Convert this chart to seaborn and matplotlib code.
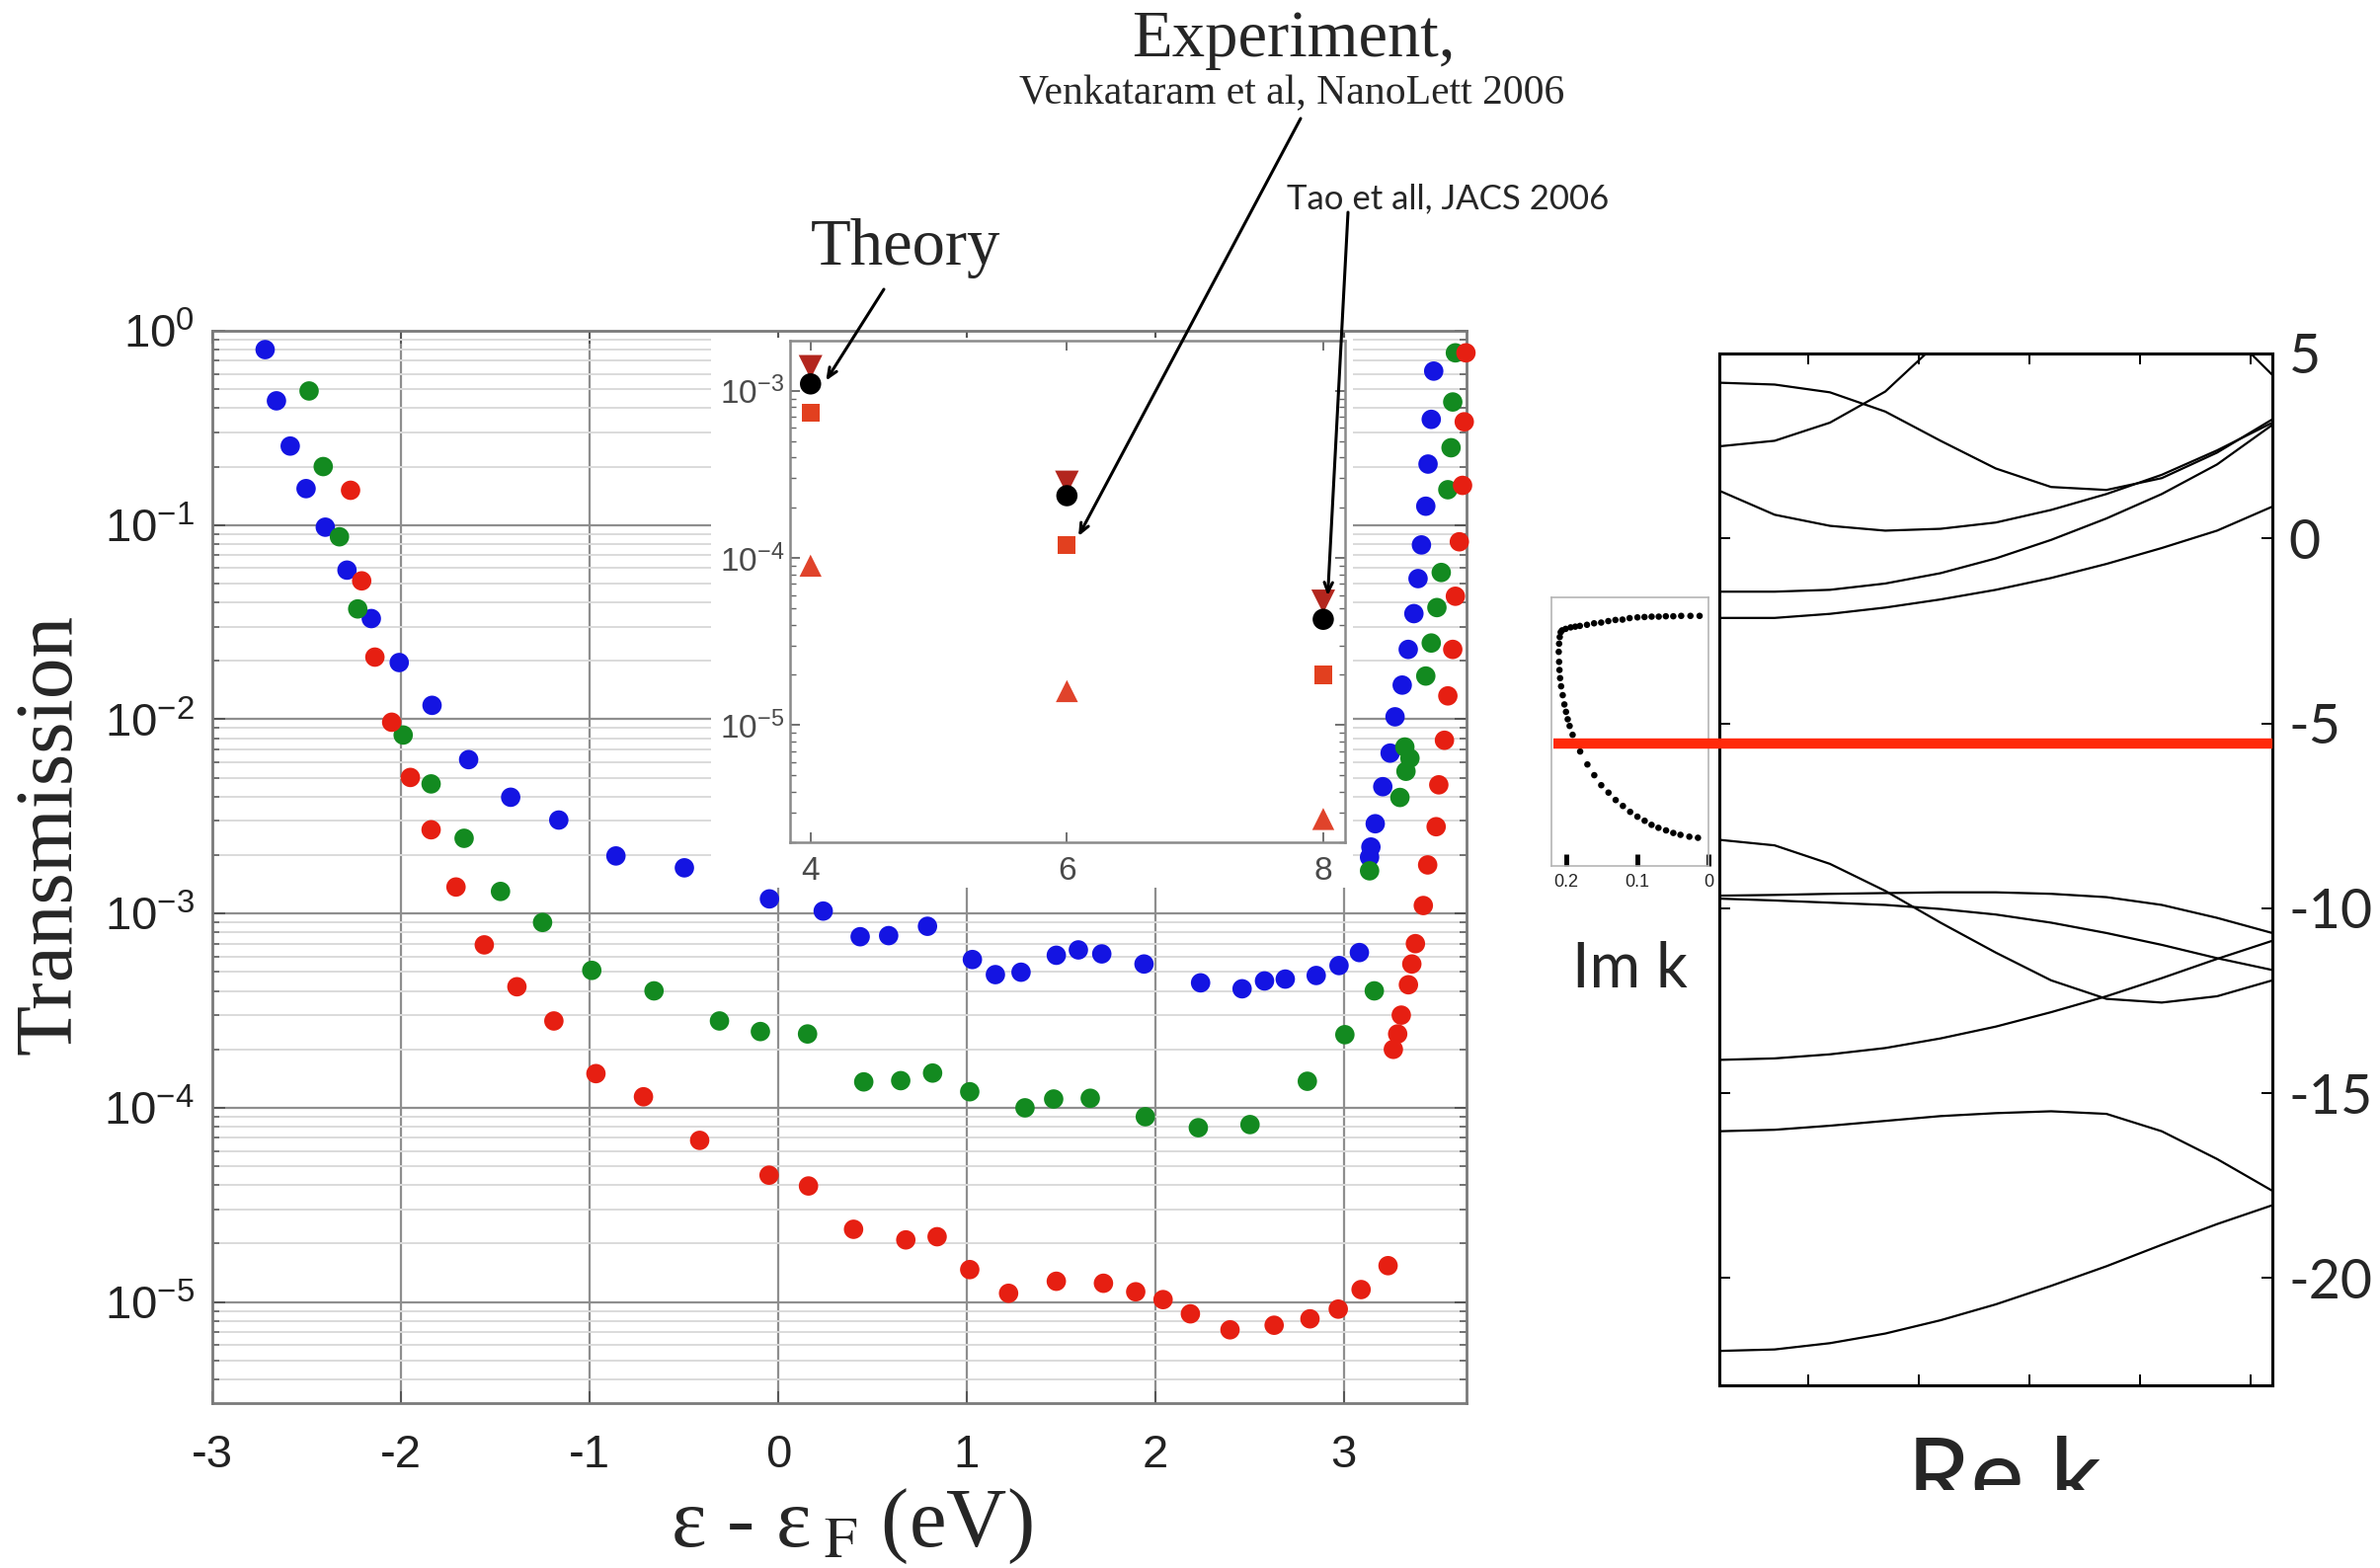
import numpy as np
import pandas as pd
import matplotlib
matplotlib.use("Agg")
import matplotlib.pyplot as plt
import matplotlib.ticker as mticker
import matplotlib.transforms as mtrans
from matplotlib.patches import Rectangle
import seaborn as sns

# ---------------- data ----------------
# main panel: transmission vs energy (three series)
blue_E = [-2.72, -2.66, -2.587, -2.503, -2.401, -2.286, -2.157, -2.009, -1.835, -1.641,
          -1.418, -1.163, -0.860, -0.497, -0.046, 0.239, 0.435, 0.586, 0.792, 1.03,
          1.152, 1.288, 1.475, 1.592, 1.716, 1.940, 2.240, 2.460, 2.579, 2.689,
          2.853, 2.974, 3.082, 3.136, 3.143, 3.166, 3.206, 3.245, 3.271, 3.309,
          3.341, 3.371, 3.393, 3.411, 3.434, 3.446, 3.463, 3.476]
blue_T = [0.80, 0.436, 0.255, 0.154, 0.0975, 0.0586, 0.033, 0.0196, 0.0118, 0.0062,
          0.00397, 0.00303, 0.00198, 0.00172, 0.00119, 0.00103, 7.6e-4, 7.7e-4, 8.6e-4, 5.8e-4,
          4.85e-4, 4.99e-4, 6.1e-4, 6.5e-4, 6.2e-4, 5.5e-4, 4.4e-4, 4.1e-4, 4.5e-4, 4.6e-4,
          4.8e-4, 5.4e-4, 6.3e-4, 1.95e-3, 2.2e-3, 2.9e-3, 4.5e-3, 6.7e-3, 0.0103, 0.015,
          0.0229, 0.035, 0.053, 0.079, 0.125, 0.206, 0.35, 0.62]

green_E = [-2.487, -2.412, -2.326, -2.229, -1.988, -1.840, -1.665, -1.472, -1.249, -0.988,
           -0.658, -0.311, -0.094, 0.156, 0.454, 0.650, 0.819, 1.016, 1.309, 1.461,
           1.655, 1.947, 2.228, 2.502, 2.806, 3.005, 3.161, 3.136, 3.297, 3.329,
           3.35, 3.323, 3.434, 3.463, 3.493, 3.516, 3.551, 3.568, 3.577, 3.591]
green_T = [0.49, 0.2, 0.087, 0.037, 0.0083, 0.00465, 0.00244, 0.0013, 9.0e-4, 5.1e-4,
           4.0e-4, 2.8e-4, 2.47e-4, 2.4e-4, 1.36e-4, 1.38e-4, 1.51e-4, 1.21e-4, 1.0e-4, 1.11e-4,
           1.12e-4, 9.0e-5, 7.9e-5, 8.2e-5, 1.37e-4, 2.38e-4, 4.0e-4, 1.66e-3, 3.96e-3, 5.4e-3,
           6.3e-3, 7.2e-3, 0.0167, 0.0247, 0.0376, 0.057, 0.152, 0.25, 0.43, 0.77]

red_E = [-2.267, -2.208, -2.138, -2.049, -1.950, -1.840, -1.708, -1.558, -1.385, -1.189,
         -0.966, -0.714, -0.416, -0.048, 0.161, 0.40, 0.677, 0.843, 1.016, 1.222,
         1.475, 1.725, 1.896, 2.041, 2.186, 2.396, 2.63, 2.82, 2.97, 3.091,
         3.234, 3.262, 3.285, 3.304, 3.342, 3.36, 3.379, 3.421, 3.444, 3.489,
         3.503, 3.533, 3.551, 3.577, 3.591, 3.612, 3.629, 3.638, 3.647]
red_T = [0.151, 0.0516, 0.0209, 0.00966, 0.00502, 0.0027, 0.00137, 6.9e-4, 4.2e-4, 2.8e-4,
         1.5e-4, 1.14e-4, 6.8e-5, 4.5e-5, 3.96e-5, 2.37e-5, 2.09e-5, 2.17e-5, 1.47e-5, 1.11e-5,
         1.28e-5, 1.25e-5, 1.13e-5, 1.03e-5, 8.7e-6, 7.2e-6, 7.6e-6, 8.2e-6, 9.2e-6, 1.16e-5,
         1.54e-5, 2.0e-4, 2.4e-4, 3.0e-4, 4.3e-4, 5.5e-4, 7.0e-4, 1.1e-3, 1.78e-3, 2.8e-3,
         4.6e-3, 7.8e-3, 0.0132, 0.0229, 0.043, 0.082, 0.16, 0.34, 0.77]

# inset: molecule length vs conductance
inset_n = [4, 6, 8]
inset_theory = [1.1e-3, 2.36e-4, 4.3e-5]
inset_dtri = [1.39e-3, 2.83e-4, 5.5e-5]
inset_square = [7.4e-4, 1.2e-4, 2.0e-5]
inset_utri = [9.0e-5, 1.6e-5, 2.75e-6]

# band structure (Re k)
k_grid = [0.0, 0.1, 0.2, 0.3, 0.4, 0.5, 0.6, 0.7, 0.8, 0.9, 1.0]
band_1 = [4.21, 4.16, 3.95, 3.43, 2.64, 1.89, 1.39, 1.31, 1.63, 2.32, 3.22]
band_2_k = [0.0, 0.1, 0.2, 0.3, 0.374]
band_2 = [2.49, 2.64, 3.13, 3.97, 5.0]
band_3_k = [0.961, 1.0]
band_3 = [5.0, 4.42]
band_4 = [1.29, 0.64, 0.34, 0.21, 0.26, 0.43, 0.77, 1.20, 1.72, 2.38, 3.13]
band_5 = [-1.44, -1.44, -1.39, -1.22, -0.94, -0.54, -0.04, 0.54, 1.20, 2.00, 3.07]
band_6 = [-2.15, -2.15, -2.04, -1.87, -1.65, -1.39, -1.07, -0.69, -0.26, 0.21, 0.86]
band_7 = [-8.15, -8.30, -8.80, -9.53, -10.39, -11.20, -11.95, -12.45, -12.55, -12.38, -11.95]
band_8 = [-9.66, -9.64, -9.61, -9.59, -9.57, -9.57, -9.61, -9.70, -9.91, -10.26, -10.67]
band_9 = [-9.74, -9.79, -9.85, -9.91, -10.02, -10.17, -10.39, -10.67, -10.99, -11.35, -11.67]
band_10 = [-14.10, -14.06, -13.95, -13.78, -13.52, -13.20, -12.81, -12.38, -11.89, -11.37, -10.88]
band_11 = [-16.03, -15.99, -15.88, -15.75, -15.62, -15.54, -15.49, -15.56, -16.03, -16.78, -17.64]
band_12 = [-21.97, -21.93, -21.76, -21.50, -21.14, -20.71, -20.21, -19.68, -19.10, -18.54, -18.03]
fermi_level = -5.55
band_ticks = [5, 0, -5, -10, -15, -20]
rek_ticks = [0.16, 0.36, 0.56, 0.76, 0.96]

# complex band (Im k)
imk_top = [0.0125, 0.0254, 0.0384, 0.0495, 0.060, 0.070, 0.080, 0.090, 0.100, 0.111, 0.121,
           0.131, 0.141, 0.151, 0.161, 0.171, 0.181, 0.1875, 0.194, 0.201, 0.206, 0.208]
imk_top_E = [-2.12, -2.12, -2.12, -2.13, -2.13, -2.14, -2.14, -2.15, -2.16, -2.18, -2.22,
             -2.23, -2.26, -2.30, -2.32, -2.36, -2.39, -2.41, -2.43, -2.47, -2.51, -2.56]
imk_left = [0.2093, 0.2102, 0.2107, 0.2102, 0.2097, 0.2088, 0.2074, 0.2051, 0.2028, 0.2005,
            0.1981, 0.1954, 0.1912, 0.1806]
imk_left_E = [-2.69, -2.87, -3.09, -3.36, -3.58, -3.80, -4.02, -4.26, -4.51, -4.71,
              -4.91, -5.09, -5.33, -5.78]
imk_low = [0.1704, 0.1607, 0.1509, 0.1407, 0.1306, 0.1204, 0.1102, 0.1000, 0.0898, 0.0801,
           0.0704, 0.0597, 0.0495, 0.0394, 0.0269, 0.0148]
imk_low_E = [-6.13, -6.42, -6.69, -6.89, -7.09, -7.25, -7.41, -7.54, -7.65, -7.76,
             -7.84, -7.91, -7.98, -8.03, -8.08, -8.11]
imk_ticks = [0.2, 0.1, 0.0]

# ---------------- style ----------------
sns.set_style("white")
plt.rcParams["font.family"] = ["Liberation Sans", "DejaVu Sans"]
plt.rcParams["axes.unicode_minus"] = False

W, H = 2410, 1588
fig = plt.figure(figsize=(W / 100, H / 100), dpi=100)
fig.patch.set_facecolor("white")


def fx(px):
    return px / W


def fy(py):
    return 1 - py / H


def frect(l, t, r, b):
    return [l / W, 1 - b / H, (r - l) / W, (b - t) / H]


def logfmt(v, pos):
    e = int(round(np.log10(v)))
    return r"$\mathregular{10^{%d}}$" % e


SERIF = ["Liberation Serif", "DejaVu Serif"]
HUMAN = ["Lato", "DejaVu Sans"]

# ---------------- main axes ----------------
ax = fig.add_axes(frect(215, 335, 1485, 1421))
df = pd.concat([
    pd.DataFrame({"E": blue_E, "T": blue_T, "s": "blue"}),
    pd.DataFrame({"E": green_E, "T": green_T, "s": "green"}),
    pd.DataFrame({"E": red_E, "T": red_T, "s": "red"}),
])
sns.scatterplot(data=df, x="E", y="T", hue="s",
                palette={"blue": "#1414e2", "green": "#138a20", "red": "#e61f12"},
                s=200, edgecolor="none", linewidth=0, legend=False, ax=ax,
                clip_on=False, zorder=3)
ax.set_yscale("log")
ax.set_xlim(-3, 3.65)
ax.set_ylim(10 ** -5.52, 1.0)
ax.set_xticks(range(-3, 4))
ax.set_yticks([1e0, 1e-1, 1e-2, 1e-3, 1e-4, 1e-5])
ax.yaxis.set_minor_locator(mticker.LogLocator(base=10, subs=np.arange(2, 10), numticks=20))
ax.yaxis.set_major_formatter(mticker.FuncFormatter(logfmt))
ax.yaxis.set_minor_formatter(mticker.NullFormatter())
ax.set_xlabel("")
ax.set_ylabel("")
ax.set_axisbelow(True)
ax.grid(True, which="major", axis="both", color="#8e8e8e", lw=1.6)
ax.grid(True, which="minor", axis="y", color="#dadada", lw=1.4)
ax.tick_params(which="both", direction="in", top=True, right=True, bottom=True, left=True,
               color="#555555")
ax.tick_params(which="major", length=9, width=1.4, labelsize=34, labelcolor="#222222")
ax.tick_params(which="minor", length=5, width=1.1)
ax.tick_params(axis="x", pad=22)
ax.tick_params(axis="y", pad=13)
for sp in ax.spines.values():
    sp.set_color("#7a7a7a")
    sp.set_linewidth(2)

# white background of the pasted inset
fig.add_artist(Rectangle((fx(720), fy(899)), (1370 - 720) / W, (899 - 342) / H,
                         transform=fig.transFigure, facecolor="white",
                         edgecolor="none", zorder=1))

# ---------------- inset ----------------
axin = fig.add_axes(frect(800, 345, 1362, 853), zorder=2)
sns.scatterplot(x=inset_n, y=inset_dtri, marker="v", color="#b3261e", s=300,
                edgecolor="none", linewidth=0, ax=axin, zorder=3)
sns.scatterplot(x=inset_n, y=inset_theory, marker="o", color="black", s=240,
                edgecolor="none", linewidth=0, ax=axin, zorder=4)
sns.scatterplot(x=inset_n, y=inset_square, marker="s", color="#e2401f", s=170,
                edgecolor="none", linewidth=0, ax=axin, zorder=3)
sns.scatterplot(x=inset_n, y=inset_utri, marker="^", color="#e0432b", s=260,
                edgecolor="none", linewidth=0, ax=axin, zorder=3)
axin.set_yscale("log")
axin.set_xlim(3.84, 8.17)
axin.set_ylim(10 ** -5.70, 10 ** -2.70)
axin.set_xticks([4, 6, 8])
axin.set_yticks([1e-3, 1e-4, 1e-5])
axin.yaxis.set_minor_locator(mticker.LogLocator(base=10, subs=np.arange(2, 10), numticks=20))
axin.yaxis.set_major_formatter(mticker.FuncFormatter(logfmt))
axin.yaxis.set_minor_formatter(mticker.NullFormatter())
axin.set_facecolor("white")
axin.tick_params(which="both", direction="in", top=True, right=True, bottom=True, left=True,
                 color="#666666")
axin.tick_params(which="major", length=7, width=1.3, labelsize=24, labelcolor="#4a4a4a")
axin.tick_params(which="minor", length=4, width=1.0)
axin.tick_params(axis="x", pad=10)
axin.tick_params(axis="y", pad=4)
for sp in axin.spines.values():
    sp.set_color("#8a8a8a")
    sp.set_linewidth(1.8)

arrow = dict(arrowstyle="->,head_length=0.7,head_width=0.3", color="black", lw=2.2,
             shrinkA=0, shrinkB=0)
axin.annotate("", xy=(4.12, 1.15e-3), xycoords="data",
              xytext=(fx(895), fy(293)), textcoords="figure fraction",
              arrowprops=arrow, annotation_clip=False)
axin.annotate("", xy=(6.09, 1.35e-4), xycoords="data",
              xytext=(fx(1317), fy(120)), textcoords="figure fraction",
              arrowprops=arrow, annotation_clip=False)
axin.annotate("", xy=(8.035, 5.94e-5), xycoords="data",
              xytext=(fx(1365), fy(215)), textcoords="figure fraction",
              arrowprops=arrow, annotation_clip=False)

fig.text(fx(917), fy(268), "Theory", ha="center", va="baseline", family=SERIF, size=48)
fig.text(fx(1310), fy(57), "Experiment,", ha="center", va="baseline", family=SERIF, size=48)
fig.text(fx(1308), fy(105), "Venkataram et al, NanoLett 2006", ha="center", va="baseline",
         family=SERIF, size=30)
fig.text(fx(1466), fy(211), "Tao et all, JACS 2006", ha="center", va="baseline",
         family=HUMAN, size=25)

fig.text(fx(52), fy(845), "Transmission", rotation=90, ha="center", va="center",
         family=SERIF, size=60)
fig.text(fx(862), fy(1566), r"ε - ε$_{\;\mathrm{F}}$ (eV)", ha="center", va="baseline",
         family=SERIF, size=61, math_fontfamily="stix")

# ---------------- band structure ----------------
band_rows = []
for name, kk, ee in [("b1", k_grid, band_1), ("b2", band_2_k, band_2), ("b3", band_3_k, band_3),
                     ("b4", k_grid, band_4), ("b5", k_grid, band_5), ("b6", k_grid, band_6),
                     ("b7", k_grid, band_7), ("b8", k_grid, band_8), ("b9", k_grid, band_9),
                     ("b10", k_grid, band_10), ("b11", k_grid, band_11), ("b12", k_grid, band_12)]:
    band_rows.append(pd.DataFrame({"k": kk, "E": ee, "band": name}))
dfb = pd.concat(band_rows)

axb = fig.add_axes(frect(1741, 358, 2301, 1403), zorder=3)
sns.lineplot(data=dfb, x="k", y="E", units="band", estimator=None, sort=False,
             color="black", lw=1.6, ax=axb)
axb.set_xlim(0, 1)
axb.set_ylim(-22.9, 5.0)
axb.set_xticks(rek_ticks)
axb.set_xticklabels([])
axb.set_yticks(band_ticks)
axb.set_xlabel("")
axb.set_ylabel("")
axb.patch.set_alpha(0)
axb.tick_params(which="major", direction="in", top=True, bottom=True, left=True, right=True,
                labelleft=False, labelright=True, length=8, width=1.4, color="black",
                labelsize=40, pad=12)
for lab in axb.get_yticklabels():
    lab.set_family(HUMAN)
for sp in axb.spines.values():
    sp.set_color("black")
    sp.set_linewidth(2.2)
blend = mtrans.blended_transform_factory(axb.transAxes, axb.transData)
axb.plot([-0.30, 1.0], [fermi_level, fermi_level], transform=blend, color="#ff2a0a",
         lw=7.5, clip_on=False, zorder=5, solid_capstyle="butt")

# ---------------- Im k panel ----------------
axi = fig.add_axes(frect(1571, 605, 1730, 877), zorder=2)
sns.scatterplot(x=imk_top + imk_left + imk_low, y=imk_top_E + imk_left_E + imk_low_E,
                color="black", s=22, edgecolor="none", linewidth=0, ax=axi)
axi.set_xlim(0.221, 0.0)
axi.set_ylim(-8.87, -1.62)
axi.set_xticks(imk_ticks)
axi.set_xticklabels(["0.2", "0.1", "0"])
axi.set_yticks([])
axi.tick_params(axis="x", direction="in", bottom=True, length=9, width=3.5, color="black",
                labelsize=13, pad=6)
for sp in axi.spines.values():
    sp.set_color("#b5b5b5")
    sp.set_linewidth(1.2)

fig.text(fx(1650), fy(1000), "Im k", ha="center", va="baseline", family=HUMAN, size=45)
fig.text(fx(2030), fy(1530), "Re k", ha="center", va="baseline", family=HUMAN, size=74)
# the original image is cropped through the "Re k" label
fig.add_artist(Rectangle((fx(1880), 0), (2250 - 1880) / W, (H - 1509) / H,
                         transform=fig.transFigure, facecolor="white",
                         edgecolor="none", zorder=10))

fig.savefig("out.png", dpi=100, facecolor="white")
